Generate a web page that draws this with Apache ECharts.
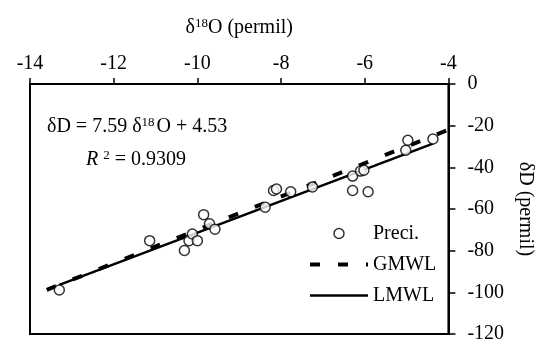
<!DOCTYPE html>
<html>
<head>
<meta charset="utf-8">
<script src="https://cdn.jsdelivr.net/npm/echarts@6/dist/echarts.min.js"></script>
<style>
    html, body { margin: 0; padding: 0; background: #fff; }
    #container { width: 543px; height: 345px; }
</style>
</head>
<body>
<div id="container"></div>
<script>
// precipitation samples, d18O / dD (permil)
const preciO = [-13.30, -11.14, -10.31, -10.20, -10.12, -10.00, -9.85, -9.71, -9.58,
    -8.38, -8.18, -8.11, -7.77, -7.25, -6.29, -6.29, -6.10, -6.02, -5.92, -5.02, -4.97, -4.37]
const preciD = [-98.9, -75.2, -79.9, -75.2, -72.0, -75.2, -62.7, -67.1, -69.7,
    -59.1, -51.1, -50.4, -51.7, -49.4, -44.2, -51.1, -41.8, -41.4, -51.7, -31.8, -27.0, -26.4]

// meteoric water lines, end points
const gmwlO = [-13.6, -4]
const gmwlD = [-98.8, -22]
const lmwlO = [-13.3, -4.37]
const lmwlD = [-96.4, -28.6]

const xTicks = { min: -14, max: -4, interval: 2 }
const yTicks = { min: -120, max: 0, interval: 20 }

const font = 'Liberation Serif'

const pairs = (xs, ys) => xs.map((x, i) => [x, ys[i]])

let mychart = echarts.init(document.getElementById('container'))

let options = {
    animation: false,
    textStyle: { fontFamily: font, color: '#000' },
    grid: {
        left: 30,
        right: 86,
        top: 84,
        bottom: 11,
        show: true,
        borderColor: '#000',
        borderWidth: 2
    },
    legend: {
        orient: 'vertical',
        left: 303,
        top: 218,
        itemWidth: 58,
        itemHeight: 10,
        itemGap: 10,
        textStyle: { fontFamily: font, fontSize: 20, color: '#000', lineHeight: 21 },
        data: [
            { name: 'Preci.', itemStyle: { color: '#fff', borderColor: '#000', borderWidth: 1.5 } },
            { name: 'GMWL', itemStyle: { opacity: 0 }, lineStyle: { color: '#000', width: 4, type: [10, 18] } },
            { name: 'LMWL', itemStyle: { opacity: 0 }, lineStyle: { color: '#000', width: 2.5 } }
        ]
    },
    xAxis: {
        type: 'value',
        position: 'top',
        min: xTicks.min,
        max: xTicks.max,
        interval: xTicks.interval,
        name: '{a|δ}{s|18}{a|O (permil)}',
        nameLocation: 'middle',
        nameGap: 46,
        nameTextStyle: {
            rich: {
                a: { fontFamily: font, fontSize: 20, color: '#000' },
                s: { fontFamily: font, fontSize: 13, color: '#000', verticalAlign: 'top', padding: [0, 0, 8, 0] }
            }
        },
        axisLine: { lineStyle: { color: '#000', width: 2 } },
        axisTick: { inside: false, length: 6, lineStyle: { color: '#000', width: 1.5 } },
        axisLabel: { fontFamily: font, fontSize: 20, color: '#000', margin: 10 },
        splitLine: { show: false }
    },
    yAxis: {
        type: 'value',
        position: 'right',
        min: yTicks.min,
        max: yTicks.max,
        interval: yTicks.interval,
        name: 'δD (permil)',
        nameLocation: 'middle',
        nameRotate: -90,
        nameGap: 64,
        nameTextStyle: { fontFamily: font, fontSize: 20, color: '#000' },
        axisLine: { lineStyle: { color: '#000', width: 2 } },
        axisTick: { inside: false, length: 7, lineStyle: { color: '#000', width: 1.5 } },
        axisLabel: { fontFamily: font, fontSize: 20, color: '#000', margin: 19 },
        splitLine: { show: false }
    },
    graphic: [
        {
            type: 'text',
            left: 47,
            top: 116,
            style: {
                text: '{a|δD = 7.59 δ}{s|18}{a|O + 4.53}',
                rich: {
                    a: { fontFamily: font, fontSize: 20, fill: '#000' },
                    s: { fontFamily: font, fontSize: 13, fill: '#000', verticalAlign: 'top', padding: [0, 2, 8, 0] }
                }
            }
        },
        {
            type: 'text',
            left: 86,
            top: 149,
            style: {
                text: '{i|R}{s|2}{a| = 0.9309}',
                rich: {
                    a: { fontFamily: font, fontSize: 20, fill: '#000' },
                    i: { fontFamily: font, fontSize: 20, fontStyle: 'italic', fill: '#000' },
                    s: { fontFamily: font, fontSize: 13, fill: '#000', verticalAlign: 'top', padding: [0, 0, 8, 5] }
                }
            }
        }
    ],
    series: [
        {
            name: 'Preci.',
            type: 'scatter',
            data: pairs(preciO, preciD),
            symbol: 'circle',
            symbolSize: 10,
            itemStyle: { color: '#fff', borderColor: '#000', borderWidth: 1.5 },
            z: 5
        },
        {
            name: 'GMWL',
            type: 'line',
            data: pairs(gmwlO, gmwlD),
            symbol: 'none',
            lineStyle: { color: '#000', width: 4, type: [10, 18] },
            itemStyle: { color: '#000' },
            z: 3
        },
        {
            name: 'LMWL',
            type: 'line',
            data: pairs(lmwlO, lmwlD),
            symbol: 'none',
            lineStyle: { color: '#000', width: 2.5 },
            itemStyle: { color: '#000' },
            z: 4
        }
    ]
}

mychart.setOption(options)
window.addEventListener('resize', () => { mychart.resize() })
</script>
</body>
</html>
